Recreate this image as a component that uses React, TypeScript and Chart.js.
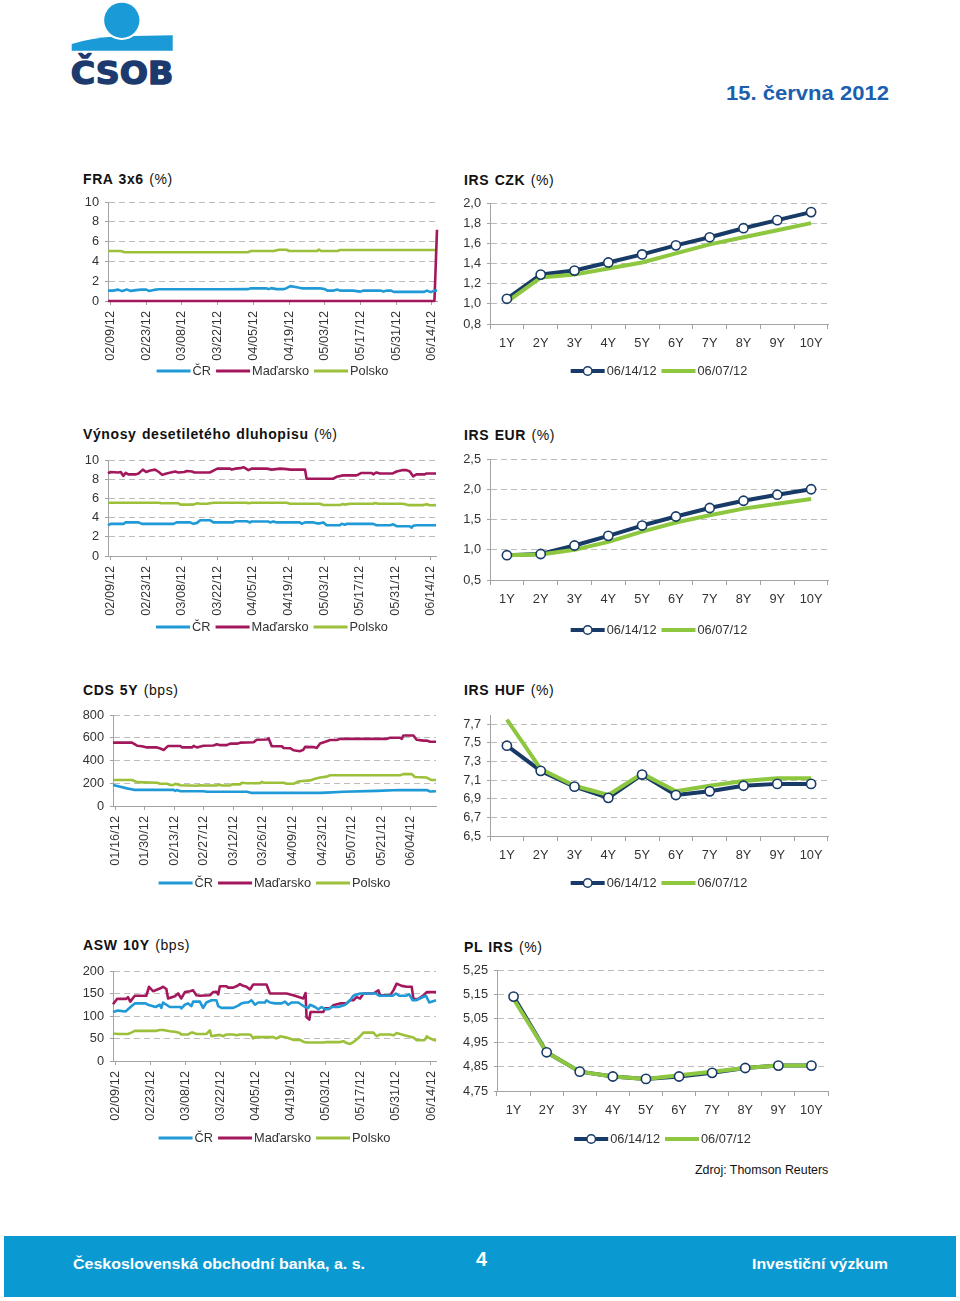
import React, { useEffect, useRef } from "react";
import { Chart, registerables } from "chart.js";

Chart.register(...registerables);

const FONT = "'Liberation Sans', Arial, Helvetica, sans-serif";
const TEXT = "#333333";
const GRID = "#bdbdbd";
const AXIS = "#a3a3a3";
const C_CR = "#1f9ad6";
const C_HU = "#a3185c";
const C_PL = "#9cc03a";
const C_NEW = "#173a67";
const C_OLD = "#8dc63f";
const LOGO_BLUE = "#1a9ad6";
const LOGO_NAVY = "#1d3a6e";

// ---------- categories / tick labels ----------
const countries = ["ČR", "Maďarsko", "Polsko"];
const irsDates = ["06/14/12", "06/07/12"];
const tenors = ["1Y", "2Y", "3Y", "4Y", "5Y", "6Y", "7Y", "8Y", "9Y", "10Y"];
const datesFeb = ["02/09/12", "02/23/12", "03/08/12", "03/22/12", "04/05/12", "04/19/12", "05/03/12", "05/17/12", "05/31/12", "06/14/12"];
const datesJan = ["01/16/12", "01/30/12", "02/13/12", "02/27/12", "03/12/12", "03/26/12", "04/09/12", "04/23/12", "05/07/12", "05/21/12", "06/04/12"];

const pctTicks10 = [0, 2, 4, 6, 8, 10];
const cdsTicks = [0, 200, 400, 600, 800];
const aswTicks = [0, 50, 100, 150, 200];
const czkTicks = [0.8, 1.0, 1.2, 1.4, 1.6, 1.8, 2.0];
const eurTicks = [0.5, 1.0, 1.5, 2.0, 2.5];
const hufTicks = [6.5, 6.7, 6.9, 7.1, 7.3, 7.5, 7.7];
const plTicks = [4.75, 4.85, 4.95, 5.05, 5.15, 5.25];

// ---------- series: [days since first date label, value] ----------
const fraCR = [[-1,1.05],[1,1.05],[3,1.15],[4.5,1.0],[6.5,1.15],[8,1.02],[10,1.1],[12,1.15],[14,1.15],[15,1.02],[17,1.12],[19,1.18],[30,1.18],[45,1.18],[54,1.2],[55,1.28],[61,1.28],[62,1.2],[63,1.3],[65,1.2],[68,1.2],[69,1.3],[70.5,1.5],[73,1.38],[75,1.28],[82,1.28],[84,1.2],[85,1.05],[87.5,1.05],[89,1.15],[90,1.05],[95,1.05],[98,0.95],[99,1.05],[106,1.05],[107,0.95],[108.5,1.05],[110,1.05],[111,0.92],[123,0.92],[124,1.05],[125.5,0.9],[127,1.05],[128,1.05]];
const fraHU = [[-1,0],[127,0],[128,7.2]];
const fraPL = [[-1,5.05],[4,5.05],[5.5,4.93],[54,4.93],[55,5.05],[64,5.05],[66,5.18],[69,5.18],[70,5.05],[81,5.05],[81.7,5.2],[82.5,5.05],[89,5.05],[90,5.15],[128,5.15]];

const bondCR = [[-1,3.2],[0,3.35],[5.2,3.35],[5.8,3.5],[11,3.5],[12.3,3.35],[24.8,3.35],[26,3.5],[31.3,3.5],[32.6,3.35],[34,3.45],[35.3,3.72],[39.2,3.72],[40.5,3.5],[48.3,3.5],[49,3.62],[53.6,3.62],[54.9,3.5],[55.5,3.6],[62,3.6],[62.7,3.5],[64,3.6],[65.4,3.5],[74.5,3.5],[75.2,3.35],[76.5,3.5],[79.8,3.5],[81.1,3.4],[82.4,3.4],[83.7,3.5],[85,3.2],[90.2,3.2],[90.9,3.35],[92.2,3.25],[92.8,3.35],[103.3,3.35],[104.6,3.2],[110,3.2],[111.2,3.3],[112.5,3.1],[117.7,3.1],[118.4,2.95],[119,3.15],[120.3,3.2],[128,3.2]];
const bondHU = [[-1,8.6],[0,8.75],[3,8.7],[4,8.75],[5,8.35],[6,8.65],[7,8.5],[10,8.5],[11,8.6],[12.7,9.0],[14,8.75],[15.6,8.9],[17.5,9.0],[19,8.75],[20.3,8.45],[22,8.6],[25.4,8.8],[26.7,8.7],[29,8.75],[30,8.85],[32,8.8],[33,8.7],[39,8.7],[40.5,8.9],[42,9.1],[47,9.1],[47.7,9.0],[49,9.1],[51,9.15],[52.3,9.25],[54.2,8.95],[55.5,9.1],[61.4,9.1],[63.4,9.0],[66.7,9.1],[69.3,9.05],[70.6,9.0],[76.5,9.0],[77.1,8.05],[87.6,8.05],[88.9,8.25],[91.5,8.4],[96.8,8.4],[98.7,8.65],[102.7,8.65],[103.3,8.5],[104.6,8.7],[106,8.6],[111,8.6],[112.5,8.8],[115,8.95],[116.4,8.95],[117.7,8.8],[119,8.3],[120.3,8.5],[123.6,8.5],[124.3,8.6],[128,8.6]];
const bondPL = [[-1,5.55],[19,5.55],[20,5.5],[26.7,5.5],[27.5,5.35],[32.6,5.35],[34,5.5],[35.3,5.45],[38,5.45],[40.5,5.55],[53.6,5.55],[54.2,5.5],[55.5,5.55],[69.3,5.55],[70.6,5.45],[82.4,5.45],[83.7,5.32],[90.2,5.32],[91.5,5.42],[92.2,5.35],[94.2,5.45],[103.3,5.45],[104,5.52],[105.3,5.45],[115,5.45],[117,5.3],[123,5.3],[124.3,5.4],[125.6,5.28],[128,5.3]];

const cdsCR = [[-1,185],[2.5,170],[5.6,155],[8.8,142],[27.7,142],[28.5,133],[29.3,140],[30.9,130],[41.9,130],[43.5,125],[62.4,125],[64.8,115],[97.1,115],[100.3,118],[108.1,125],[123.9,133],[135,140],[147.6,140],[149.2,128],[152,130]];
const cdsHU = [[-1,557],[8,557],[10.4,530],[12.7,525],[15.1,515],[19.8,515],[21.4,505],[23,493],[24.6,520],[25.3,528],[30.9,528],[31.6,515],[36.4,515],[37.2,528],[38.7,515],[41.9,530],[46.6,532],[48.2,542],[49.8,535],[52.9,535],[54.5,548],[57.7,548],[59.3,557],[65.6,560],[67.1,582],[71.9,585],[72.7,595],[74.2,525],[79,525],[79.8,510],[82.9,508],[84.5,490],[87.6,482],[89.2,495],[90,520],[93.9,518],[95.5,510],[97.1,550],[100.3,570],[101.8,580],[105,580],[106.6,590],[128.7,590],[130.2,600],[135,600],[135.8,590],[136.5,620],[141.3,620],[142.8,582],[146,575],[147.6,575],[149.2,565],[152,565]];
const cdsPL = [[-1,228],[8,228],[10.4,210],[19.8,205],[21.4,195],[24.6,195],[26.1,185],[27.7,185],[28.5,195],[30.9,182],[38.7,178],[40.3,182],[41.9,180],[48.2,180],[49,188],[50.6,180],[54.5,180],[55.3,190],[59.3,190],[60,205],[62.4,200],[68.7,200],[69.5,212],[70.3,205],[79.8,205],[81.3,195],[84.5,195],[86.1,210],[87.6,218],[92.4,225],[94.7,240],[97.1,250],[100.3,258],[101.8,270],[135,270],[136.5,280],[140.5,280],[142,255],[147.6,250],[149.9,228],[152,228]];

const aswCR = [[-1,109],[1,112],[4,110],[6,120],[7.7,128],[12,128],[13,125],[16,120],[17.7,125],[18.3,118],[19,130],[20.3,125],[21.7,120],[26,120],[26.3,117],[27.7,125],[29,128],[30.3,122],[31,132],[33.7,132],[34.3,125],[35,118],[36.3,130],[38.3,135],[40.3,135],[41,122],[42.3,118],[47,118],[49,123],[50.3,128],[51.7,130],[53,130],[54.3,135],[55.7,125],[57,130],[59.7,130],[60.3,135],[61.7,130],[63.7,128],[66.3,128],[67.7,132],[69,125],[70.3,130],[73,130],[74.3,125],[75.7,120],[77,118],[77.7,125],[79.7,120],[81,115],[82.3,120],[83.7,115],[85,115],[86.3,120],[89,120],[91.7,125],[93.7,135],[95,145],[97.7,150],[104,150],[105.3,145],[110.7,145],[112,150],[113.3,145],[116,145],[117.3,148],[118.7,135],[120,135],[122,140],[124,145],[125.3,130],[128,135]];
const aswHU = [[-1,126],[0.6,138],[4.3,138],[5,142],[5.9,132],[7.7,145],[12.3,145],[13.4,165],[15,155],[17.7,161],[19,165],[20.3,160],[21,139],[23.7,144],[25,150],[26.3,139],[27.7,153],[29.7,155],[31,157],[32.3,146],[33.7,145],[37.7,146],[39,153],[40.3,154],[41,148],[41.7,166],[44.3,166],[45,163],[47,163],[48.3,166],[49.7,171],[51,167],[52.3,165],[53.7,159],[55,170],[60.3,170],[61.7,150],[68.3,150],[71,146],[75,139],[75.9,151],[76.3,97],[77.4,92],[77.9,109],[83,109],[83.7,117],[85.7,117],[87,124],[89.7,128],[92.3,128],[93.7,135],[95,135],[96.3,142],[97.7,139],[99,150],[103,150],[105,157],[105.7,146],[109.7,146],[111,157],[112.3,172],[114.3,167],[116.3,165],[118.3,165],[119,137],[121,138],[123,146],[124.3,153],[128,153]];
const aswPL = [[-1,61],[1,60],[5,60],[6.3,63],[7.7,67],[16.3,67],[17.7,69],[19,69],[21.7,66],[23.7,65],[25.7,62],[26.3,59],[29,59],[30.3,63],[31,63],[32.3,60],[36.3,60],[37.7,68],[38.3,55],[40.3,57],[41.7,58],[43,55],[44.3,59],[47,59],[48.3,57],[49.7,59],[53.7,59],[54.3,56],[55,50],[55.7,53],[63,53],[64.3,50],[65.7,55],[68.3,52],[71,47],[73.7,47],[75,43],[76.3,41],[83,41],[84.3,42],[89.7,42],[91,44],[92.3,40],[93.7,38],[95,42],[96.3,48],[97.7,55],[99,63],[103,63],[104.3,55],[105.7,59],[109.7,59],[111,57],[112.3,62],[115,58],[117.7,54],[119,52],[120.3,46],[123,46],[123.7,48],[124.3,55],[125.7,50],[128,45]];

const czk0614 = [1.05, 1.29, 1.33, 1.41, 1.49, 1.58, 1.66, 1.75, 1.83, 1.91];
const czk0607 = [1.02, 1.26, 1.29, 1.35, 1.41, 1.50, 1.59, 1.66, 1.73, 1.80];
const eur0614 = [0.91, 0.93, 1.07, 1.23, 1.40, 1.55, 1.69, 1.81, 1.91, 2.00];
const eur0607 = [0.91, 0.92, 1.00, 1.13, 1.30, 1.45, 1.57, 1.68, 1.76, 1.84];
const huf0614 = [7.47, 7.20, 7.03, 6.91, 7.16, 6.94, 6.98, 7.04, 7.06, 7.06];
const huf0607 = [7.75, 7.22, 7.04, 6.94, 7.17, 6.98, 7.04, 7.09, 7.12, 7.12];
const pl0614 = [5.14, 4.91, 4.83, 4.81, 4.80, 4.81, 4.825, 4.845, 4.855, 4.855];
const pl0607 = [5.13, 4.91, 4.83, 4.81, 4.80, 4.815, 4.83, 4.845, 4.855, 4.855];

// ---------- helpers ----------
type Box = { left: number; top: number; width: number; height: number; plotLeft: number; plotRight: number; plotTop: number; plotBottom: number; legendY: number };

function parseDate(s: string) {
  const [m, d, y] = s.split("/").map(Number);
  return Date.UTC(2000 + y, m - 1, d);
}
function dayDiff(a: string, b: string) {
  return Math.round((parseDate(b) - parseDate(a)) / 86400000);
}

const pageLegend = {
  id: "pageLegend",
  afterDraw(chart: any, _args: any, opts: any) {
    const items = opts && opts.items;
    if (!items) return;
    const ctx = chart.ctx;
    ctx.save();
    ctx.font = `12.8px ${FONT}`;
    const lineLen = 34, gap1 = 2, gap2 = 5;
    const widths = items.map((it: any) => ctx.measureText(it.label).width);
    const total = widths.reduce((a: number, w: number) => a + lineLen + gap1 + w, 0) + gap2 * (items.length - 1);
    let x = (chart.chartArea.left + chart.chartArea.right) / 2 - total / 2;
    const y = opts.y;
    items.forEach((it: any, i: number) => {
      ctx.strokeStyle = it.color;
      ctx.lineWidth = opts.lineWidth;
      ctx.lineCap = "butt";
      ctx.beginPath();
      ctx.moveTo(x, y);
      ctx.lineTo(x + lineLen, y);
      ctx.stroke();
      if (it.marker) {
        ctx.beginPath();
        ctx.arc(x + lineLen / 2, y, 4.3, 0, Math.PI * 2);
        ctx.fillStyle = "#ffffff";
        ctx.fill();
        ctx.lineWidth = 1.5;
        ctx.stroke();
      }
      ctx.fillStyle = TEXT;
      ctx.textBaseline = "middle";
      ctx.textAlign = "left";
      ctx.fillText(it.label, x + lineLen + gap1, y + 0.5);
      x += lineLen + gap1 + widths[i] + gap2;
    });
    ctx.restore();
  },
};

const tickFont = { family: FONT, size: 12.8 };

function yScale(box: Box, ticks: number[], min: number, max: number, decimals: number) {
  return {
    type: "linear",
    min,
    max,
    afterBuildTicks: (s: any) => {
      s.ticks = ticks.map((v) => ({ value: v }));
    },
    afterFit: (s: any) => {
      s.width = box.plotLeft - box.left;
      s.paddingTop = 0;
      s.paddingBottom = 0;
    },
    grid: {
      color: (c: any) => (c.index === 0 ? "rgba(0,0,0,0)" : GRID),
      lineWidth: 1,
      drawTicks: true,
      tickLength: 3,
      tickColor: AXIS,
    },
    border: { display: true, color: AXIS, width: 1, dash: [6, 4] },
    ticks: {
      padding: 6,
      color: TEXT,
      font: tickFont,
      callback: (v: number) => v.toFixed(decimals).replace(".", ","),
    },
  };
}

function baseOptions(box: Box, x: any, y: any, legendItems: any[], lineWidth: number) {
  return {
    responsive: false,
    animation: false,
    devicePixelRatio: 1,
    layout: {
      padding: { top: box.plotTop - box.top, right: box.left + box.width - box.plotRight, left: 0, bottom: 0 },
    },
    plugins: {
      legend: { display: false },
      tooltip: { enabled: false },
      pageLegend: { items: legendItems, y: box.legendY - box.top, lineWidth },
    },
    scales: { x, y },
  };
}

function timeConfig(box: Box, labels: string[], xMin: number, xMax: number, series: number[][][], yTicks: number[]) {
  const tickDays = labels.map((l) => dayDiff(labels[0], l));
  const colors = [C_CR, C_HU, C_PL];
  const x = {
    type: "linear",
    min: xMin,
    max: xMax,
    afterBuildTicks: (s: any) => {
      s.ticks = tickDays.map((v) => ({ value: v }));
    },
    afterFit: (s: any) => {
      s.height = box.top + box.height - box.plotBottom;
      s.paddingLeft = 0;
      s.paddingRight = 0;
    },
    grid: { display: true, drawOnChartArea: false, drawTicks: true, tickLength: 4, tickColor: AXIS, color: AXIS },
    border: { display: true, color: AXIS, width: 1 },
    ticks: {
      autoSkip: false,
      minRotation: 90,
      maxRotation: 90,
      padding: 6,
      color: TEXT,
      font: tickFont,
      callback: (_v: number, i: number) => labels[i],
    },
  };
  const y = yScale(box, yTicks, yTicks[0], yTicks[yTicks.length - 1], 0);
  return {
    type: "line",
    data: {
      datasets: series.map((s, i) => ({
        label: countries[i],
        data: s.map(([dx, dy]) => ({ x: dx, y: dy })),
        borderColor: colors[i],
        backgroundColor: colors[i],
        borderWidth: 2.6,
        pointRadius: 0,
        tension: 0,
        clip: 6,
        borderJoinStyle: "round",
        order: i + 1,
      })),
    },
    options: baseOptions(
      box,
      x,
      y,
      countries.map((c, i) => ({ label: c, color: colors[i] })),
      3
    ),
    plugins: [pageLegend],
  };
}

function irsConfig(box: Box, newer: number[], older: number[], yTicks: number[], yMax: number, decimals: number) {
  const x = {
    type: "category",
    offset: true,
    afterFit: (s: any) => {
      s.height = box.top + box.height - box.plotBottom;
      s.paddingLeft = 0;
      s.paddingRight = 0;
    },
    grid: { display: true, offset: true, drawOnChartArea: false, drawTicks: true, tickLength: 5, tickColor: AXIS, color: AXIS },
    border: { display: true, color: AXIS, width: 1 },
    ticks: { autoSkip: false, minRotation: 0, maxRotation: 0, padding: 7, color: TEXT, font: tickFont },
  };
  const y = yScale(box, yTicks, yTicks[0], yMax, decimals);
  return {
    type: "line",
    data: {
      labels: tenors,
      datasets: [
        {
          label: irsDates[0],
          data: newer,
          showLine: false,
          borderColor: C_NEW,
          pointRadius: 4.6,
          pointBackgroundColor: "#ffffff",
          pointBorderColor: C_NEW,
          pointBorderWidth: 1.6,
          clip: 8,
          order: 1,
        },
        {
          label: irsDates[1],
          data: older,
          borderColor: C_OLD,
          borderWidth: 4,
          pointRadius: 0,
          tension: 0,
          clip: 8,
          borderJoinStyle: "round",
          order: 2,
        },
        {
          label: irsDates[0],
          data: newer,
          borderColor: C_NEW,
          borderWidth: 4,
          pointRadius: 0,
          tension: 0,
          clip: 8,
          borderJoinStyle: "round",
          order: 3,
        },
      ],
    },
    options: baseOptions(
      box,
      x,
      y,
      [
        { label: irsDates[0], color: C_NEW, marker: true },
        { label: irsDates[1], color: C_OLD },
      ],
      4
    ),
    plugins: [pageLegend],
  };
}

function ChartCanvas({ box, build }: { box: Box; build: () => any }) {
  const ref = useRef<HTMLCanvasElement>(null);
  useEffect(() => {
    const chart = new Chart(ref.current as HTMLCanvasElement, build());
    return () => chart.destroy();
  }, []);
  return (
    <canvas
      ref={ref}
      width={box.width}
      height={box.height}
      style={{ position: "absolute", left: box.left, top: box.top, width: box.width, height: box.height }}
    />
  );
}

function Title({ x, y, bold, rest }: { x: number; y: number; bold: string; rest: string }) {
  return (
    <div
      style={{
        position: "absolute",
        left: x,
        top: y - 8,
        lineHeight: "16px",
        fontSize: 14,
        letterSpacing: 0.6,
        wordSpacing: 1,
        color: "#111",
        whiteSpace: "nowrap",
        fontFamily: FONT,
      }}
    >
      <b>{bold}</b> {rest}
    </div>
  );
}

// ---------- layout boxes ----------
const boxFra: Box = { left: 60, top: 190, width: 390, height: 195, plotLeft: 108, plotRight: 437, plotTop: 202, plotBottom: 301, legendY: 371 };
const boxCzk: Box = { left: 450, top: 190, width: 390, height: 195, plotLeft: 490, plotRight: 828, plotTop: 203, plotBottom: 324, legendY: 371 };
const boxBond: Box = { left: 60, top: 447, width: 390, height: 195, plotLeft: 108, plotRight: 436, plotTop: 460, plotBottom: 556, legendY: 627 };
const boxEur: Box = { left: 450, top: 447, width: 390, height: 195, plotLeft: 490, plotRight: 828, plotTop: 459, plotBottom: 580, legendY: 630 };
const boxCds: Box = { left: 60, top: 702, width: 390, height: 195, plotLeft: 113, plotRight: 436, plotTop: 715, plotBottom: 806, legendY: 883 };
const boxHuf: Box = { left: 450, top: 702, width: 390, height: 195, plotLeft: 490, plotRight: 828, plotTop: 715, plotBottom: 836, legendY: 883 };
const boxAsw: Box = { left: 60, top: 957, width: 390, height: 195, plotLeft: 113, plotRight: 436, plotTop: 971, plotBottom: 1061, legendY: 1138 };
const boxPl: Box = { left: 450, top: 957, width: 390, height: 195, plotLeft: 497, plotRight: 828, plotTop: 970, plotBottom: 1091, legendY: 1139 };

export default function App() {
  return (
    <div style={{ position: "absolute", left: 0, top: 0, width: 960, height: 1301, background: "#fff", fontFamily: FONT, overflow: "hidden" }}>
      <svg width={960} height={1301} style={{ position: "absolute", left: 0, top: 0 }}>
        <path d="M71.7,50.7 L71.7,44 Q90,38 120,36.3 L172.7,35.2 L172.7,50.7 Z" fill={LOGO_BLUE} />
        <circle cx={121.8} cy={20.3} r={19.6} fill="#ffffff" />
        <circle cx={121.8} cy={20.3} r={17.6} fill={LOGO_BLUE} />
        <text x={70.7} y={83.5} fontFamily="'DejaVu Sans', sans-serif" fontWeight="bold" fontSize={32} fill={LOGO_NAVY} stroke={LOGO_NAVY} strokeWidth={1.4} strokeLinejoin="round" textLength={102.6} lengthAdjust="spacingAndGlyphs">
          ČSOB
        </text>
        <text x={726} y={99.5} fontFamily={FONT} fontWeight="bold" fontSize={21} fill="#1d5fae" textLength={163} lengthAdjust="spacingAndGlyphs">
          15. června 2012
        </text>
        <text x={828.3} y={1173.6} fontFamily={FONT} fontSize={12.4} fill="#111" textAnchor="end">
          Zdroj: Thomson Reuters
        </text>
        <rect x={4} y={1236} width={952} height={61} fill="#0b99d2" />
        <text x={73} y={1269} fontFamily={FONT} fontWeight="bold" fontSize={15.5} fill="#ffffff" textLength={292} lengthAdjust="spacingAndGlyphs">
          Československá obchodní banka, a. s.
        </text>
        <text x={476} y={1266} fontFamily={FONT} fontWeight="bold" fontSize={20} fill="#ffffff" textLength={11} lengthAdjust="spacingAndGlyphs">
          4
        </text>
        <text x={752} y={1269} fontFamily={FONT} fontWeight="bold" fontSize={15.5} fill="#ffffff" textLength={136} lengthAdjust="spacingAndGlyphs">
          Investiční výzkum
        </text>
      </svg>

      <Title x={83} y={179} bold="FRA 3x6" rest="(%)" />
      <Title x={464} y={180} bold="IRS CZK" rest="(%)" />
      <Title x={83} y={434} bold="Výnosy desetiletého dluhopisu" rest="(%)" />
      <Title x={464} y={435} bold="IRS EUR" rest="(%)" />
      <Title x={83} y={690} bold="CDS 5Y" rest="(bps)" />
      <Title x={464} y={690} bold="IRS HUF" rest="(%)" />
      <Title x={83} y={945} bold="ASW 10Y" rest="(bps)" />
      <Title x={464} y={947} bold="PL IRS" rest="(%)" />

      <ChartCanvas box={boxFra} build={() => timeConfig(boxFra, datesFeb, -1, 128, [fraCR, fraHU, fraPL], pctTicks10)} />
      <ChartCanvas box={boxCzk} build={() => irsConfig(boxCzk, czk0614, czk0607, czkTicks, 2.0, 1)} />
      <ChartCanvas box={boxBond} build={() => timeConfig(boxBond, datesFeb, -1, 128, [bondCR, bondHU, bondPL], pctTicks10)} />
      <ChartCanvas box={boxEur} build={() => irsConfig(boxEur, eur0614, eur0607, eurTicks, 2.5, 1)} />
      <ChartCanvas box={boxCds} build={() => timeConfig(boxCds, datesJan, -1, 152, [cdsCR, cdsHU, cdsPL], cdsTicks)} />
      <ChartCanvas box={boxHuf} build={() => irsConfig(boxHuf, huf0614, huf0607, hufTicks, 7.8, 1)} />
      <ChartCanvas box={boxAsw} build={() => timeConfig(boxAsw, datesFeb, -1, 128, [aswCR, aswHU, aswPL], aswTicks)} />
      <ChartCanvas box={boxPl} build={() => irsConfig(boxPl, pl0614, pl0607, plTicks, 5.25, 2)} />
    </div>
  );
}
